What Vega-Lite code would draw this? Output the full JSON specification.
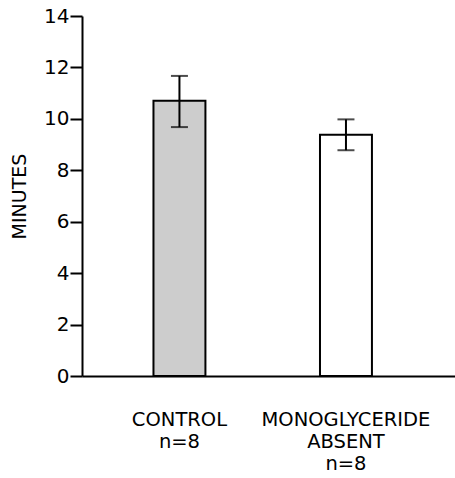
{
  "$schema": "https://vega.github.io/schema/vega-lite/v6.json",
  "width": 373,
  "height": 360,
  "autosize": "none",
  "padding": {"left": 82, "top": 16, "right": 0, "bottom": 102},
  "background": "white",
  "config": {
    "view": {"stroke": null},
    "font": "DejaVu Sans",
    "axis": {"domainColor": "black", "domainWidth": 2, "tickColor": "black", "tickWidth": 2, "labelColor": "black", "titleColor": "black", "grid": false}
  },
  "data": {
    "values": [
      {"group": "CONTROL|n=8", "minutes": 10.7, "lo": 9.68, "hi": 11.67},
      {"group": "MONOGLYCERIDE|ABSENT|n=8", "minutes": 9.38, "lo": 8.78, "hi": 9.98}
    ]
  },
  "encoding": {
    "x": {
      "field": "group",
      "type": "nominal",
      "sort": null,
      "scale": {"paddingInner": 0.688, "paddingOuter": 0.464, "align": 0.4625},
      "axis": {
        "title": null,
        "ticks": false,
        "labelAngle": 0,
        "labelExpr": "split(datum.label, '|')",
        "labelFontSize": 19.5,
        "labelLineHeight": 22,
        "labelPadding": 34,
        "labelLimit": 300
      }
    }
  },
  "layer": [
    {
      "mark": {"type": "bar", "stroke": "black", "strokeWidth": 2},
      "encoding": {
        "y": {
          "field": "minutes",
          "type": "quantitative",
          "scale": {"domain": [0, 14], "nice": false},
          "axis": {
            "title": "MINUTES",
            "titleFontSize": 19,
            "titleFontWeight": "normal",
            "titlePadding": 14,
            "values": [0, 2, 4, 6, 8, 10, 12, 14],
            "tickSize": 12,
            "labelPadding": 1,
            "labelFontSize": 20
          }
        },
        "fill": {
          "field": "group",
          "type": "nominal",
          "scale": {"range": ["#cdcdcd", "#ffffff"]},
          "legend": null
        }
      }
    },
    {
      "mark": {"type": "rule", "color": "black", "strokeWidth": 2},
      "encoding": {
        "y": {"field": "lo", "type": "quantitative"},
        "y2": {"field": "hi"}
      }
    },
    {
      "mark": {"type": "tick", "color": "black", "thickness": 2, "size": 17},
      "encoding": {"y": {"field": "lo", "type": "quantitative"}}
    },
    {
      "mark": {"type": "tick", "color": "black", "thickness": 2, "size": 17},
      "encoding": {"y": {"field": "hi", "type": "quantitative"}}
    }
  ]
}
